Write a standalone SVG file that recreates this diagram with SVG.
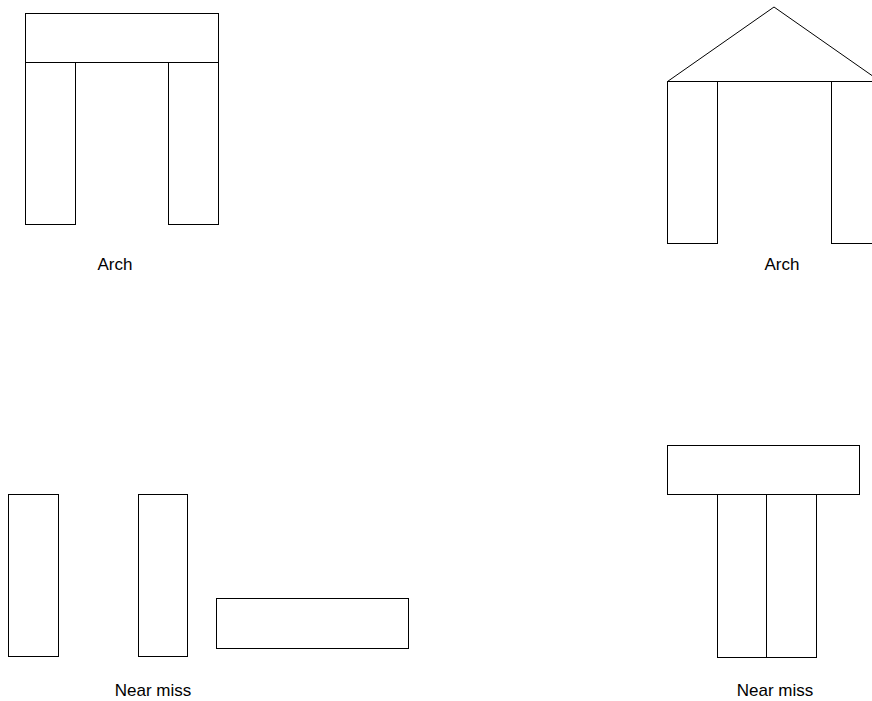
<svg xmlns="http://www.w3.org/2000/svg" width="872" height="701" viewBox="0 0 872 701">
<style>
.b{fill:#fff;stroke:#000;stroke-width:1}
.t{font-family:"Liberation Sans",Arial,sans-serif;font-size:17px;fill:#000;text-anchor:middle}
</style>
<rect width="872" height="701" fill="#fff"/>
<g id="arch1">
<rect class="b" x="25.5" y="62.5" width="50" height="162"/>
<rect class="b" x="168.5" y="62.5" width="50" height="162"/>
<rect class="b" x="25.5" y="13.5" width="193" height="49"/>
<text class="t" x="115" y="270">Arch</text>
</g>
<g id="arch2">
<rect class="b" x="667.5" y="81.5" width="50" height="162"/>
<rect class="b" x="831.5" y="81.5" width="50" height="162"/>
<polygon class="b" points="774,7 667.5,81.5 880.5,81.5"/>
<text class="t" x="782" y="270">Arch</text>
</g>
<g id="nearmiss1">
<rect class="b" x="8.5" y="494.5" width="50" height="162"/>
<rect class="b" x="138.5" y="494.5" width="49" height="162"/>
<rect class="b" x="216.5" y="598.5" width="192" height="50"/>
<text class="t" x="153" y="696">Near miss</text>
</g>
<g id="nearmiss2">
<rect class="b" x="717.5" y="494.5" width="49" height="163"/>
<rect class="b" x="766.5" y="494.5" width="50" height="163"/>
<rect class="b" x="667.5" y="445.5" width="192" height="49"/>
<text class="t" x="775" y="696">Near miss</text>
</g>
<g id="connectors"/>
</svg>
